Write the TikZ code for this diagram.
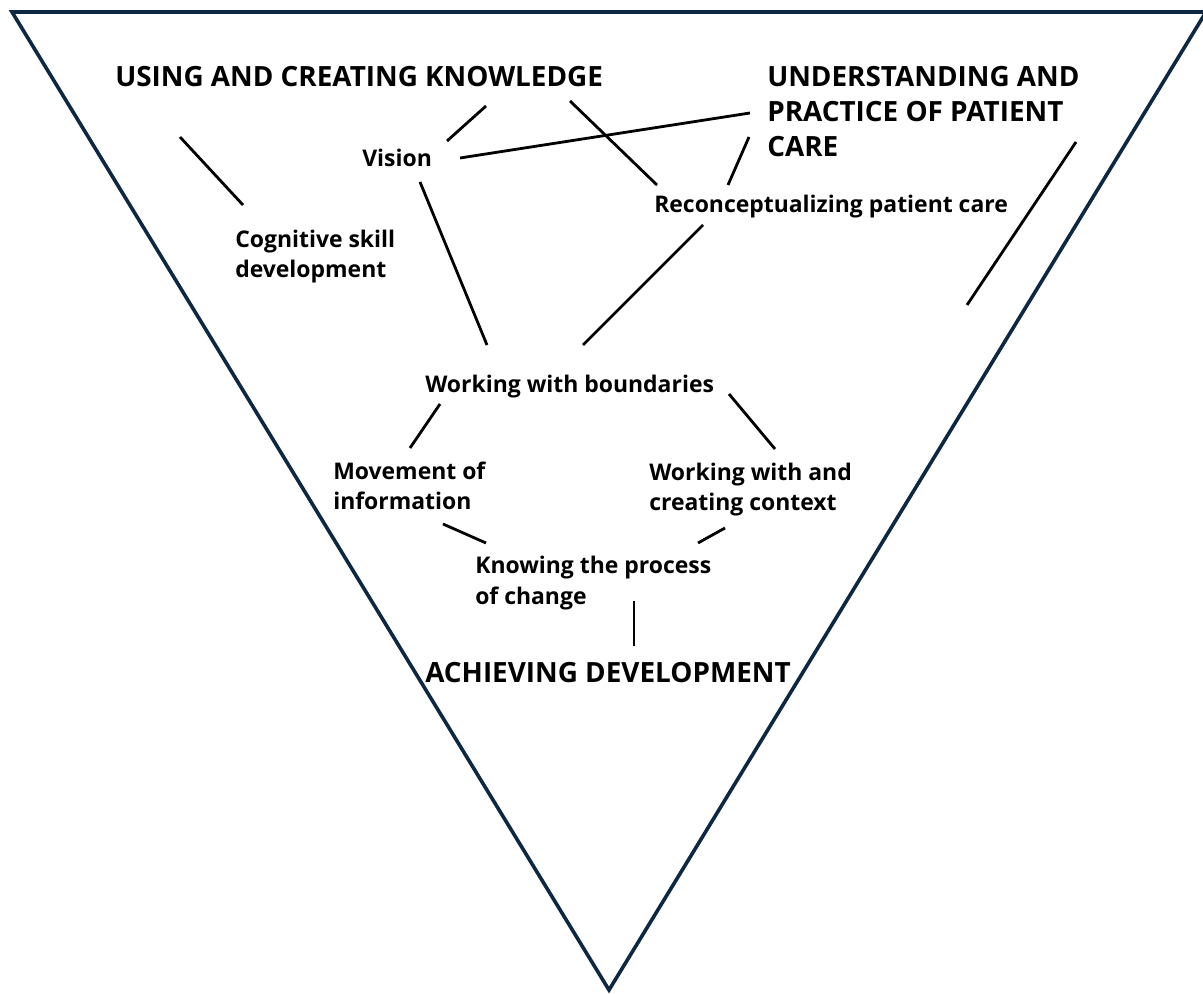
\documentclass[tikz,border=0pt]{standalone}
\usepackage{fontspec}
\setmainfont{Open Sans}
\definecolor{navy}{HTML}{0E2841}
\tikzset{
  big/.style={anchor=base west, inner sep=0pt, align=left, font=\bfseries\fontsize{20.9}{26.6}\selectfont},
  small/.style={anchor=base west, inner sep=0pt, align=left, font=\bfseries\fontsize{17.2}{23}\selectfont},
  link/.style={line width=2.1pt, black}
}
\begin{document}
\begin{tikzpicture}[x=0.75pt,y=-0.75pt]
\useasboundingbox (0,0) rectangle (1203,994);
\coordinate (tl) at (12,12);
\coordinate (tr) at (1206,12);
\coordinate (tip) at (609,990);
\draw[navy, line width=2.7pt] (tl) -- (tr) -- (tip) -- cycle;

\node[big] (know) at (115,87) {USING AND CREATING KNOWLEDGE};
\node[big] (care) at (767,157) {UNDERSTANDING AND\\PRACTICE OF PATIENT\\CARE};
\node[small] (vision) at (362,167) {Vision};
\node[small] (cog) at (235,278) {Cognitive skill\\development};
\node[small] (recon) at (654,213) {Reconceptualizing patient care};
\node[small] (bound) at (425,393) {Working with boundaries};
\node[small] (move) at (333,510) {Movement of\\information};
\node[small] (context) at (649,511) {Working with and\\creating context};
\node[small] (change) at (475,604) {Knowing the process\\of change};
\node[big] (achieve) at (425,682) {ACHIEVING DEVELOPMENT};

\coordinate (know-cog) at (180,137);
\coordinate (cog-know) at (243,205);
\coordinate (vision-know) at (447,141);
\coordinate (know-vision) at (486,106);
\coordinate (vision-care) at (460,158);
\coordinate (care-vision) at (750,113);
\coordinate (know-recon) at (570,101);
\coordinate (recon-know) at (657,185);
\coordinate (care-recon) at (749,137);
\coordinate (recon-care) at (728,185);
\coordinate (vision-bound) at (420,182);
\coordinate (bound-vision) at (487,345);
\coordinate (recon-bound) at (703,225);
\coordinate (bound-recon) at (583,345);
\coordinate (care-a) at (1076,142);
\coordinate (care-b) at (967,305);
\coordinate (bound-move) at (440,404);
\coordinate (move-bound) at (410,448);
\coordinate (bound-context) at (729,394);
\coordinate (context-bound) at (775,449);
\coordinate (move-change) at (443,524);
\coordinate (change-move) at (486,543);
\coordinate (context-change) at (725,528);
\coordinate (change-context) at (698,543);
\coordinate (change-achieve) at (634,601);
\coordinate (achieve-change) at (634,646);

\draw[link] (know-cog) -- (cog-know);
\draw[link] (vision-know) -- (know-vision);
\draw[link] (vision-care) -- (care-vision);
\draw[link] (know-recon) -- (recon-know);
\draw[link] (care-recon) -- (recon-care);
\draw[link] (vision-bound) -- (bound-vision);
\draw[link] (recon-bound) -- (bound-recon);
\draw[link] (care-a) -- (care-b);
\draw[link] (bound-move) -- (move-bound);
\draw[link] (bound-context) -- (context-bound);
\draw[link] (move-change) -- (change-move);
\draw[link] (context-change) -- (change-context);
\draw[link] (change-achieve) -- (achieve-change);
\end{tikzpicture}
\end{document}
